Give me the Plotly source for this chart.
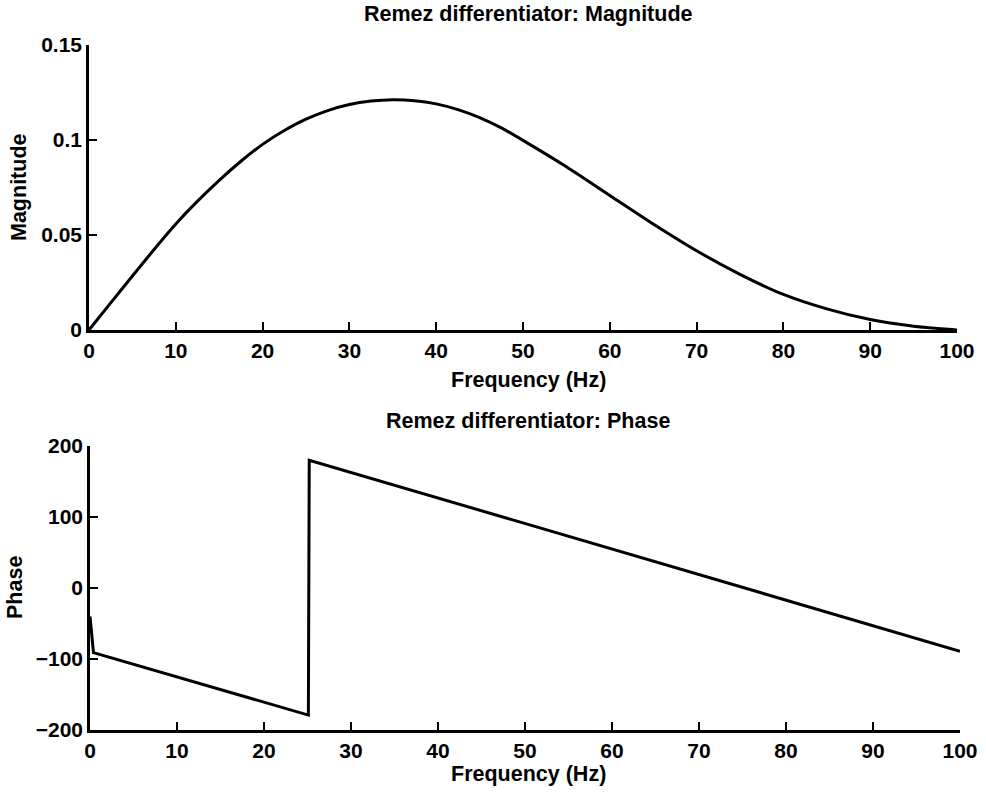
import plotly.graph_objects as go

# Magnitude response
mag_freq = [0, 2.5, 5, 7.5, 10, 12.5, 15, 17.5, 20, 22.5, 25, 27.5, 30, 32.5, 35, 37.5, 40, 42.5, 45, 47.5,
            50, 55, 60, 65, 70, 75, 80, 85, 90, 95, 100]
mag_vals = [0, 0.0143, 0.0284, 0.0424, 0.0558, 0.0678, 0.0788, 0.0888, 0.0977, 0.1050, 0.1110, 0.1155,
            0.1187, 0.1205, 0.1212, 0.1207, 0.1190, 0.1160, 0.1118, 0.1064,
            0.0998, 0.0859, 0.0708, 0.0558, 0.0417, 0.0293, 0.0187, 0.0111, 0.0055, 0.0020, 0.0]

# Phase response
ph_freq = [0, 0.4, 25.1, 25.2, 100]
ph_vals = [-40, -91, -179, 180, -89]

font_family = "Liberation Sans, Arial, sans-serif"
tick_font = dict(family=font_family, size=21, color="black", weight="bold")

fig = go.Figure()
fig.add_trace(go.Scatter(x=mag_freq, y=mag_vals, mode="lines", line=dict(color="black", width=3, shape="spline", smoothing=0.6),
                         xaxis="x", yaxis="y", showlegend=False))
fig.add_trace(go.Scatter(x=ph_freq, y=ph_vals, mode="lines", line=dict(color="black", width=3),
                         xaxis="x2", yaxis="y2", showlegend=False))

axis_common = dict(showline=True, linecolor="black", linewidth=2.5, mirror=False, showgrid=False, zeroline=False,
                   ticks="inside", ticklen=8, tickwidth=2, tickcolor="black", tickfont=tick_font, automargin=False)

fig.update_layout(
    width=986, height=793, autosize=False,
    margin=dict(l=0, r=0, t=0, b=0, pad=0),
    paper_bgcolor="white", plot_bgcolor="white",
    xaxis=dict(domain=[89/986, 957/986], range=[0, 100], tickvals=[0, 10, 20, 30, 40, 50, 60, 70, 80, 90, 100],
               anchor="y", **axis_common),
    yaxis=dict(domain=[1-330/793, 1-45/793], range=[0, 0.15], tickvals=[0, 0.05, 0.1, 0.15],
               ticktext=["0", "0.05", "0.1", "0.15"], anchor="x", **axis_common),
    xaxis2=dict(domain=[90/986, 960/986], range=[0, 100], tickvals=[0, 10, 20, 30, 40, 50, 60, 70, 80, 90, 100],
                anchor="y2", **axis_common),
    yaxis2=dict(domain=[1-730/793, 1-446/793], range=[-200, 200], tickvals=[-200, -100, 0, 100, 200],
                ticktext=["\u2212200", "\u2212100", "0", "100", "200"], anchor="x2", **axis_common),
)

ann_font = dict(family=font_family, size=21.5, color="black", weight="bold")
annotations = [
    dict(text="Remez differentiator: Magnitude", x=528/986, y=1-14/793),
    dict(text="Remez differentiator: Phase", x=528/986, y=1-421/793),
    dict(text="Frequency (Hz)", x=528/986, y=1-380/793),
    dict(text="Frequency (Hz)", x=528/986, y=1-774/793),
]
for a in annotations:
    fig.add_annotation(xref="paper", yref="paper", x=a["x"], y=a["y"], text=a["text"], showarrow=False,
                       xanchor="center", yanchor="middle", font=ann_font)
fig.add_annotation(xref="paper", yref="paper", x=19/986, y=1-187/793, text="Magnitude", showarrow=False,
                   textangle=-90, xanchor="center", yanchor="middle", font=ann_font)
fig.add_annotation(xref="paper", yref="paper", x=15/986, y=1-588/793, text="Phase", showarrow=False,
                   textangle=-90, xanchor="center", yanchor="middle", font=ann_font)

fig.write_html("out.html", post_script="document.body.style.margin='0';document.body.style.overflow='hidden';")
